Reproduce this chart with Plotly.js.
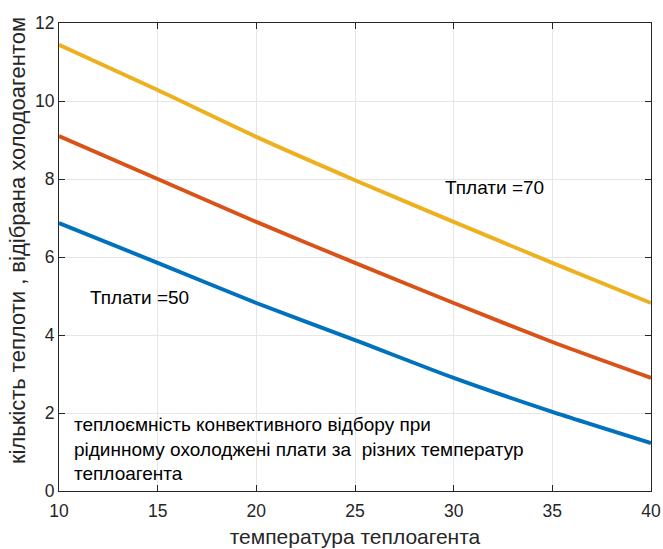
<!DOCTYPE html>
<html><head><meta charset="utf-8">
<script src="https://cdn.plot.ly/plotly-3.0.1.min.js"></script>
<style>body{margin:0}#c{width:663px;height:549px}</style>
</head><body><div id="c"></div>
<script>
const xVals = [10, 15, 20, 25, 30, 35, 40];
const yT70 = [11.44, 10.28, 9.08, 7.97, 6.90, 5.85, 4.82];
const yMid = [9.10, 8.00, 6.90, 5.85, 4.82, 3.82, 2.90];
const yT50 = [6.87, 5.85, 4.82, 3.87, 2.90, 2.03, 1.23];
const xTicks = [10, 15, 20, 25, 30, 35, 40];
const yTicks = [0, 2, 4, 6, 8, 10, 12];

const mk = (y, c) => ({x: xVals, y: y, type: 'scatter', mode: 'lines',
  line: {color: c, width: 3.9, shape: 'spline', smoothing: 0.6}, hoverinfo: 'skip'});

const fam = 'Liberation Sans, Arial, sans-serif';
const fnt = {family: fam, size: 19, color: '#000'};
const layout = {
  width: 663, height: 549,
  margin: {l: 59, r: 12, t: 23, b: 58},
  showlegend: false,
  paper_bgcolor: '#fff', plot_bgcolor: '#fff',
  font: fnt,
  xaxis: {range: [10, 40], tickvals: xTicks, ticks: 'inside', ticklen: 6, tickcolor: '#262626',
    showgrid: true, gridcolor: '#e6e6e6', zeroline: false, showline: true, linecolor: '#262626',
    linewidth: 1, mirror: 'ticks', ticklabelstandoff: 4, tickfont: {family: fam, size: 17.5, color: '#262626'},
    title: {text: 'температура теплоагента', font: {family: fam, size: 21, color: '#262626'}, standoff: 9}},
  yaxis: {range: [0, 12], tickvals: yTicks, ticks: 'inside', ticklen: 6, tickcolor: '#262626',
    showgrid: true, gridcolor: '#e6e6e6', zeroline: false, showline: true, linecolor: '#262626',
    linewidth: 1, mirror: 'ticks', tickfont: {family: fam, size: 17.5, color: '#262626'}},
  annotations: [
    {x: -0.071, y: 0.536, xref: 'paper', yref: 'paper', text: 'кількість теплоти , відібрана холодоагентом',
      textangle: -90, showarrow: false, xanchor: 'center', yanchor: 'middle', font: {family: fam, size: 22, color: '#262626'}},
    {x: 29.45, y: 7.77, xref: 'x', yref: 'y', text: 'Тплати =70', showarrow: false, xanchor: 'left', font: fnt},
    {x: 11.45, y: 4.95, xref: 'x', yref: 'y', text: 'Тплати =50', showarrow: false, xanchor: 'left', font: fnt},
    {x: 10.65, y: 2.02, xref: 'x', yref: 'y', text: 'теплоємність конвективного відбору при<br>рідинному охолоджені плати за  різних температур<br>теплоагента',
      showarrow: false, xanchor: 'left', yanchor: 'top', align: 'left', font: fnt}
  ]
};
Plotly.newPlot('c', [mk(yT50, '#0072BD'), mk(yMid, '#D95319'), mk(yT70, '#EDB120')], layout, {staticPlot: true});
</script></body></html>
